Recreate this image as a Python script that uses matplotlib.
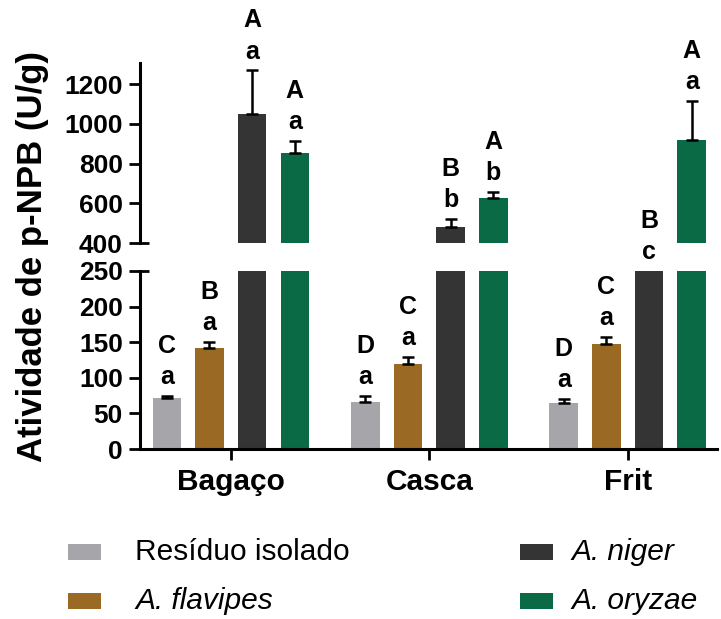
import matplotlib
matplotlib.use("Agg")
import matplotlib.pyplot as plt
import numpy as np
from matplotlib.patches import Rectangle

plt.rcParams.update({
    "font.family": ["Liberation Sans", "DejaVu Sans"],
    "font.weight": "bold",
    "axes.linewidth": 2.2,
})

groups = ["Bagaço", "Casca", "Frit"]
series = ["Resíduo isolado", "A. flavipes", "A. niger", "A. oryzae"]
italic = [False, True, True, True]
colors = ["#a6a6aa", "#9a6923", "#343434", "#0b6a46"]

# mean activity and SD per series, one value per group
means = [
    [71, 66, 64],
    [142, 120, 148],
    [1052, 481, 330],
    [853, 627, 918],
]
errs = [
    [4, 9, 6],
    [8, 9, 10],
    [218, 42, 20],
    [61, 30, 199],
]
# Tukey letters: upper = between residues, lower = within residue
upper = [["C", "D", "D"], ["B", "C", "C"], ["A", "B", "B"], ["A", "A", "A"]]
lower = [["a", "a", "a"], ["a", "a", "a"], ["a", "b", "c"], ["a", "b", "a"]]

LOW_LIM = (0, 250)
HIGH_LIM = (400, 1307)

fig = plt.figure(figsize=(7.21, 6.19), dpi=100)
ax_lo = fig.add_axes([0.1935, 0.2746, 0.801, 0.2876])
ax_hi = fig.add_axes([0.1935, 0.6074, 0.801, 0.2908])

x = np.arange(len(groups))
step, width = 0.215, 0.144
offsets = (np.arange(len(series)) - 1.5) * step

for ax in (ax_lo, ax_hi):
    ax.patch.set_visible(False)
    for i in range(len(series)):
        m = np.array(means[i], float)
        e = np.array(errs[i], float)
        ax.bar(x + offsets[i], m, width, color=colors[i], zorder=2)
        ax.errorbar(x + offsets[i], m, yerr=[np.zeros_like(e), e], fmt="none",
                    ecolor="black", elinewidth=1.8, capsize=4.5, capthick=1.8,
                    zorder=3)
    ax.set_xlim(-0.46, 2.45)
    for s in ("top", "right"):
        ax.spines[s].set_visible(False)
    ax.tick_params(axis="y", direction="out", length=8, width=2,
                   labelsize=19, pad=4)

ax_lo.set_ylim(*LOW_LIM)
ax_lo.set_yticks([0, 50, 100, 150, 200, 250])
ax_lo.set_xticks(x)
ax_lo.set_xticklabels(groups, fontsize=21.5, fontweight="bold")
ax_lo.tick_params(axis="x", direction="out", length=8, width=2, pad=6)

ax_hi.set_ylim(*HIGH_LIM)
ax_hi.set_yticks([400, 600, 800, 1000, 1200])
ax_hi.spines["bottom"].set_visible(False)
ax_hi.set_xticks([])

# inward half of the ticks where the y axis is broken
ax_lo.plot([0, 0.016], [1, 1], transform=ax_lo.transAxes, color="black",
           lw=2.0, clip_on=False, solid_capstyle="butt")
ax_hi.plot([0, 0.016], [0, 0], transform=ax_hi.transAxes, color="black",
           lw=2.0, clip_on=False, solid_capstyle="butt")

# significance letters above each bar
for i in range(len(series)):
    for j in range(len(groups)):
        top = means[i][j] + errs[i][j]
        if top >= HIGH_LIM[0]:
            ax, y = ax_hi, top
        else:
            ax, y = ax_lo, min(top, LOW_LIM[1])
        xp = x[j] + offsets[i]
        ax.annotate(lower[i][j], (xp, y), xytext=(0, 13.5),
                    textcoords="offset points", ha="center", va="center",
                    fontsize=18, fontweight="bold", annotation_clip=False,
                    zorder=5)
        ax.annotate(upper[i][j], (xp, y), xytext=(0, 36),
                    textcoords="offset points", ha="center", va="center",
                    fontsize=18, fontweight="bold", annotation_clip=False,
                    zorder=5)

fig.text(0.045, 0.585, "Atividade de p-NPB (U/g)", rotation=90,
         ha="center", va="center", fontsize=25, fontweight="bold")

# legend, two columns
leg_pos = [(68, 552), (68, 601), (520, 552), (520, 601)]
text_x = [135, 135, 571, 571]
W, H = 721.0, 619.0
for i, name in enumerate(series):
    px, py = leg_pos[i]
    fig.patches.append(Rectangle((px / W, 1 - (py + 8) / H), 33 / W, 16 / H,
                                 transform=fig.transFigure,
                                 facecolor=colors[i], edgecolor="none"))
    fig.text(text_x[i] / W, 1 - py / H, name, ha="left", va="center",
             fontsize=21.5, fontweight="normal",
             style="italic" if italic[i] else "normal")

fig.savefig("out.png", dpi=100)
